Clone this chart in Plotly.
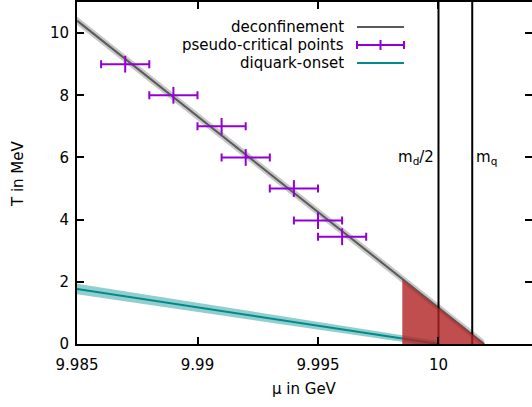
import plotly.graph_objects as go

# ---------------- data ----------------
# deconfinement line (fit) endpoints and band half-widths
mu_dec = [9.985, 10.0019]
T_dec = [10.4, 0.0]
dec_err = [0.13, 0.13]

# diquark-onset line endpoints and band half-widths
mu_dq = [9.985, 10.0]
T_dq = [1.77, 0.0]
dq_err = [0.17, 0.10]

# pseudo-critical points
mu_pc = [9.987, 9.989, 9.991, 9.992, 9.994, 9.995, 9.996]
T_pc = [9.0, 8.0, 7.0, 6.0, 5.0, 3.97, 3.45]
mu_pc_err = [0.001, 0.001, 0.001, 0.001, 0.001, 0.001, 0.001]

# shaded region
mu_red = [9.9985, 9.9985, 10.0019]
T_red = [0.0, 2.07, 0.0]

# reference masses
mu_md2 = 10.0
mu_mq = 10.0014

x_ticks = [9.985, 9.99, 9.995, 10.0]
x_ticktext = ["9.985", "9.99", "9.995", "10"]
y_ticks = [0, 2, 4, 6, 8, 10]
y_ticktext = ["0", "2", "4", "6", "8", "10"]

x_range = [9.985, 10.00388]
y_range = [0, 11]

FONT = "DejaVu Sans"
GRAY = "#5a5a5a"
TEAL = "#008b8b"
PURPLE = "#9400d3"

fig = go.Figure()

# bands
fig.add_trace(go.Scatter(
    x=[mu_dec[0], mu_dec[1], mu_dec[1], mu_dec[0]],
    y=[T_dec[0] + dec_err[0], T_dec[1] + dec_err[1], T_dec[1] - dec_err[1], T_dec[0] - dec_err[0]],
    fill="toself", fillcolor="rgba(190,190,190,0.85)", line=dict(width=0),
    mode="lines", hoverinfo="skip", showlegend=False))
fig.add_trace(go.Scatter(
    x=[mu_dq[0], mu_dq[1], mu_dq[1], mu_dq[0]],
    y=[T_dq[0] + dq_err[0], T_dq[1] + dq_err[1], T_dq[1] - dq_err[1], T_dq[0] - dq_err[0]],
    fill="toself", fillcolor="rgba(110,190,190,0.75)", line=dict(width=0),
    mode="lines", hoverinfo="skip", showlegend=False))

# central lines
fig.add_trace(go.Scatter(x=mu_dec, y=T_dec, mode="lines",
                         line=dict(color=GRAY, width=2), showlegend=False))
fig.add_trace(go.Scatter(x=mu_dq, y=T_dq, mode="lines",
                         line=dict(color=TEAL, width=2), showlegend=False))

# vertical mass lines
for m in (mu_md2, mu_mq):
    fig.add_trace(go.Scatter(x=[m, m], y=y_range, mode="lines",
                             line=dict(color="black", width=2), showlegend=False))

# pseudo-critical points
fig.add_trace(go.Scatter(
    x=mu_pc, y=T_pc, mode="markers",
    marker=dict(symbol="line-ns-open", size=12, line=dict(color=PURPLE, width=2), color=PURPLE),
    error_x=dict(type="data", array=mu_pc_err, color=PURPLE, thickness=2, width=4),
    showlegend=False))

# red shaded region on top
fig.add_trace(go.Scatter(x=mu_red, y=T_red, fill="toself",
                         fillcolor="rgba(178,34,34,0.8)", line=dict(width=0),
                         mode="lines", hoverinfo="skip", showlegend=False))

# dummy trace for the right-hand y axis ticks
fig.add_trace(go.Scatter(x=[x_range[0]], y=[0], yaxis="y2", mode="markers",
                         marker=dict(opacity=0), hoverinfo="skip", showlegend=False))

fig.update_layout(
    width=532, height=407, autosize=False,
    margin=dict(l=77, r=0, t=2, b=63),
    plot_bgcolor="white", paper_bgcolor="white",
    font=dict(family=FONT, size=15, color="black"),
    xaxis=dict(range=x_range, tickvals=x_ticks, ticktext=x_ticktext,
               ticks="inside", ticklen=7, tickwidth=1.5, tickcolor="black",
               showline=True, linecolor="black", linewidth=2, mirror="ticks",
               showgrid=False, zeroline=False, tickfont=dict(size=15),
               ticklabelstandoff=6),
    yaxis=dict(range=y_range, tickvals=y_ticks, ticktext=y_ticktext,
               ticks="inside", ticklen=7, tickwidth=1.5, tickcolor="black",
               showline=True, linecolor="black", linewidth=2, mirror=False,
               showgrid=False, zeroline=False, tickfont=dict(size=15),
               ticklabelstandoff=3),
    yaxis2=dict(range=y_range, overlaying="y", side="right", anchor="x",
                tickvals=y_ticks, ticks="inside", ticklen=7, tickwidth=1.5,
                tickcolor="black", showticklabels=False, showline=False,
                showgrid=False, zeroline=False),
)

# axis titles
fig.add_annotation(text="T in MeV", xref="paper", yref="paper",
                   x=(18 - 77) / 455, y=(344 - 173) / 342, textangle=-90,
                   showarrow=False, font=dict(size=15), xanchor="center", yanchor="middle")
fig.add_annotation(text="μ in GeV", xref="paper", yref="paper",
                   x=(304 - 77) / 455, y=(344 - 389) / 342,
                   showarrow=False, font=dict(size=15), xanchor="center", yanchor="middle")

# mass labels
fig.add_annotation(text="m<sub>d</sub>/2", x=mu_md2, y=6.0, xref="x", yref="y",
                   showarrow=False, xanchor="right", xshift=-2, font=dict(size=15))
fig.add_annotation(text="m<sub>q</sub>", x=mu_mq, y=6.0, xref="x", yref="y",
                   showarrow=False, xanchor="left", xshift=2, font=dict(size=15))

# manual gnuplot-style legend
def px_x(p):
    return (p - 77) / 455

def px_y(p):
    return (344 - p) / 342

legend_items = [("deconfinement", 27, GRAY), ("pseudo-critical points", 45, PURPLE),
                ("diquark-onset", 63, TEAL)]
for label, ypx, col in legend_items:
    fig.add_annotation(text=label, xref="paper", yref="paper", x=px_x(346), y=px_y(ypx),
                       showarrow=False, xanchor="right", yanchor="middle", font=dict(size=15))
    fig.add_shape(type="line", xref="paper", yref="paper",
                  x0=px_x(357), x1=px_x(404), y0=px_y(ypx), y1=px_y(ypx),
                  line=dict(color=col, width=2))
# error-bar glyph in legend
ypc = 45
for xp, h in ((357, 4), (404, 4), (380.5, 5)):
    fig.add_shape(type="line", xref="paper", yref="paper",
                  x0=px_x(xp), x1=px_x(xp), y0=px_y(ypc - h), y1=px_y(ypc + h),
                  line=dict(color=PURPLE, width=2))

fig.write_html("out.html", config={"displayModeBar": False},
               post_script="document.body.style.margin='0';document.body.style.overflow='hidden';")
